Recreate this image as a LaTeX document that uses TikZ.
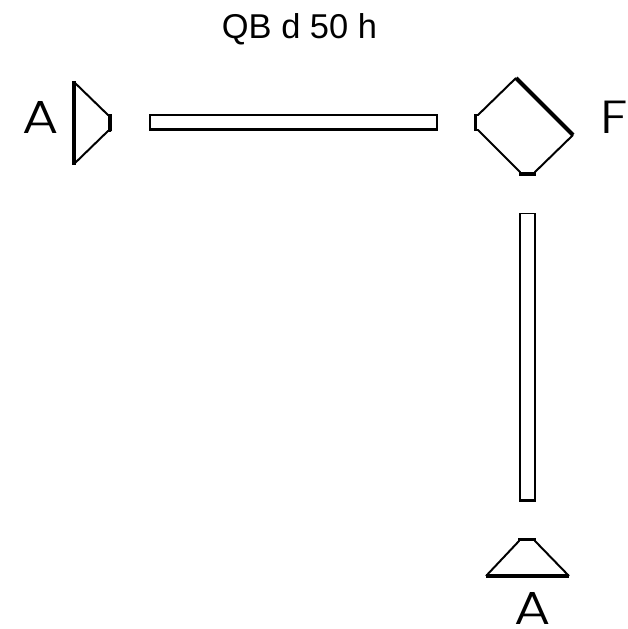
\documentclass[tikz,border=0pt]{standalone}
\usepackage{fontspec}
\setmainfont{Liberation Sans}
\newfontfamily\letterfont[FakeStretch=1.2]{Poppins Light}
\begin{document}
\begin{tikzpicture}[x=.025cm,y=-.025cm,line join=miter]
\tikzstyle{wall}=[draw,line width=1.4pt]
\tikzstyle{edge}=[draw,line width=2.8pt]
\tikzstyle{title}=[font=\fontsize{24.5}{28}\selectfont]
\tikzstyle{letter}=[font=\letterfont\fontsize{33}{36}\selectfont]
\useasboundingbox(0,0)rectangle(627,629);
\node(label)at(299.5,29)[title]{QB d 50 h};
\node(a-left)at(41,117)[letter]{A};
\node(f-right)at(614.5,117)[letter]{F};
\node(a-bottom)at(533,608)[letter]{A};
% left piece
\draw[wall](74,82)--(108,115)--(111,115);
\draw[wall](74,164)--(108,131)--(111,131);
\draw[edge](74,81)--(74,165);
\draw[edge](110,114.5)--(110,131.5);
% top bar
\draw[wall](150,115)rectangle(437,130);
\draw[edge](149,129.5)--(438,129.5);
% corner piece
\draw[wall](476,115)--(478,115)--(516,78);
\draw[wall](476,130)--(478,130)--(520,172)--(520,174);
\draw[wall](535,174)--(535,172)--(573,135);
\draw[edge](516,78)--(573,135);
\draw[edge](475.5,114)--(475.5,131);
\draw[edge](519,174)--(536,174);
% right bar
\draw[wall](520,213.5)rectangle(535,501);
\draw[edge](519,500.5)--(536,500.5);
% bottom piece
\draw[wall](519,539)--(519,541)--(486,576);
\draw[wall](535,539)--(535,541)--(569,576);
\draw[edge](518,539.5)--(536,539.5);
\draw[edge](486,576)--(569,576);
\end{tikzpicture}
\end{document}
